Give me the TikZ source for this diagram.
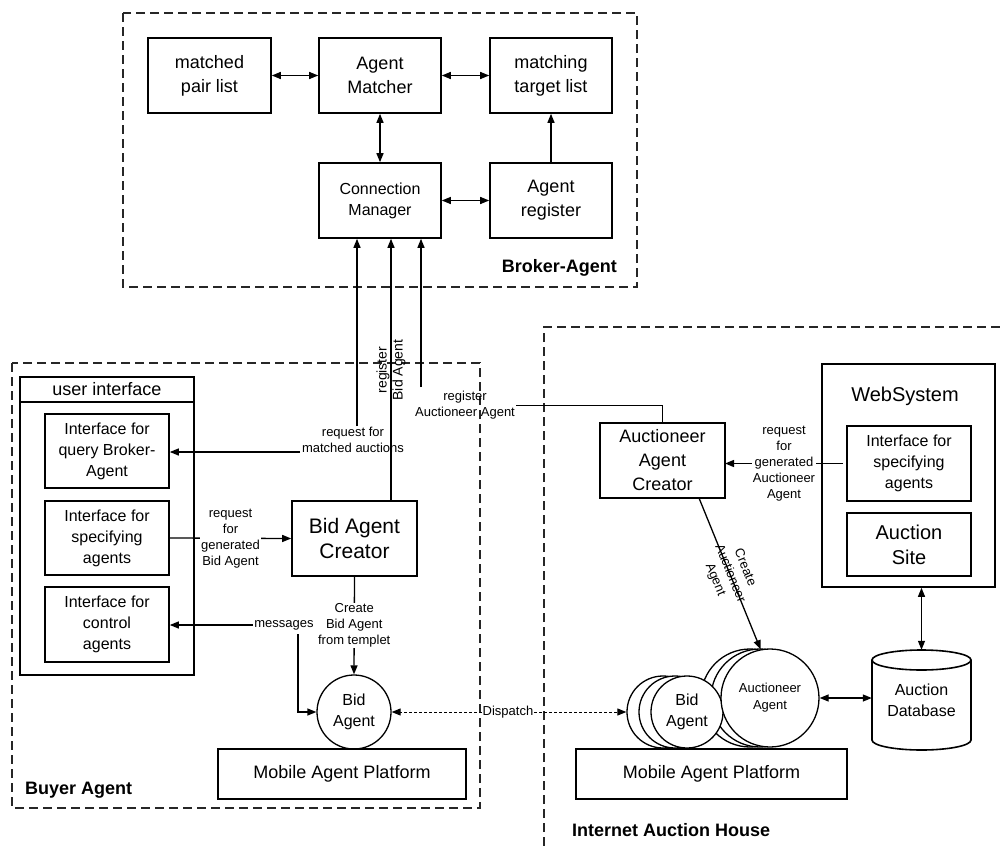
\documentclass[tikz,border=0pt]{standalone}
\usepackage{fontspec}
\setmainfont{Liberation Sans}
\usetikzlibrary{arrows.meta}
\begin{document}
\begin{tikzpicture}[x=1pt,y=-1pt,
  bx/.style={draw, line width=1.6pt, align=center, inner sep=0pt, fill=white, font=\fontsize{18}{24}\selectfont},
  mid/.style={font=\fontsize{16}{21}\selectfont},
  lbl/.style={align=center, inner sep=1pt, font=\fontsize{13}{16}\selectfont},
  arr/.style={line width=1.3pt, -{Triangle[length=9pt,width=7pt]}},
  darr/.style={line width=1.3pt, {Triangle[length=9pt,width=7pt]}-{Triangle[length=9pt,width=7pt]}},
  dsh/.style={line width=1pt, dash pattern=on 3pt off 2pt, -{Triangle[length=9pt,width=7pt]}},
  cont/.style={line width=1.8pt, dash pattern=on 9pt off 5pt, draw=black!85},
  ttl/.style={font=\bfseries\fontsize{18}{22}\selectfont, inner sep=0pt},
  circ/.style={draw, circle, line width=1.3pt, fill=white, align=center, inner sep=0pt}
]
\useasboundingbox (0,0) rectangle (1005,846);

% containers
\draw[cont] (123,13) rectangle (637,287);
\draw[cont] (12,363) rectangle (480,808);
\draw[cont] (544,846) -- (544,327) -- (1005,327);
\node[ttl, anchor=east] (tba) at (617,268) {Broker-Agent};
\node[ttl, anchor=west] (tbu) at (25,790) {Buyer Agent};
\node[ttl, anchor=west] (tih) at (572,830) {Internet Auction House};

% Broker-Agent
\node[bx, minimum width=123pt, minimum height=75pt] (mpl) at (209.5,75.5) {matched\\pair list};
\node[bx, minimum width=122pt, minimum height=75pt] (am) at (380,75.5) {Agent\\Matcher};
\node[bx, minimum width=122pt, minimum height=75pt] (mtl) at (551,75.5) {matching\\target list};
\node[bx, mid, minimum width=122pt, minimum height=75pt] (cm) at (380,200.5) {Connection\\Manager};
\node[bx, minimum width=122pt, minimum height=75pt] (ar) at (551,200.5) {Agent\\register};
\draw[darr] (mpl) -- (am);
\draw[darr] (am) -- (mtl);
\draw[darr] (am) -- (cm);
\draw[arr] (ar) -- (mtl);
\draw[darr] (cm) -- (ar);

% Buyer Agent
\node[draw, line width=1.6pt, minimum width=174pt, minimum height=298pt, inner sep=0pt] (ui) at (107,526) {};
\draw[line width=1.6pt] (20,402) -- (194,402);
\node[font=\fontsize{18}{22}\selectfont, inner sep=0pt] (uit) at (107,389.5) {user interface};
\node[bx, mid, minimum width=124pt, minimum height=74pt] (qi) at (107,451) {Interface for\\query Broker-\\Agent};
\node[bx, mid, minimum width=124pt, minimum height=74pt] (si) at (107,538) {Interface for\\specifying\\agents};
\node[bx, mid, minimum width=124pt, minimum height=75pt] (ci) at (107,624.5) {Interface for\\control\\agents};
\node[bx, font=\fontsize{21}{25}\selectfont, minimum width=125pt, minimum height=75pt] (bac) at (354.5,538.5) {Bid Agent\\Creator};
\node[circ, mid, minimum size=74pt] (ba) at (354,712) {Bid\\Agent};
\node[bx, minimum width=248pt, minimum height=50pt] (map1) at (342,774) {Mobile Agent Platform};

% connectors to Connection Manager
\coordinate (r1) at (357,0);
\coordinate (r2) at (391,0);
\coordinate (r3) at (421,387);
\node[lbl] (rq) at (353,440) {request for\\matched auctions};
\draw[arr] (rq.north -| r1) -- (cm.south -| r1);
\coordinate (q1) at (300,452);
\draw[arr] (q1) -- (qi.east |- q1);
\draw[arr] (bac.north -| r2) -- (cm.south -| r2);
\node[lbl, rotate=90, font=\fontsize{14}{16}\selectfont] (rb) at (391,370) {register\\Bid Agent};
\draw[arr] (r3) -- (cm.south -| r3);
\node[lbl] (ra) at (465,405) {register\\Auctioneer Agent};

% Buyer internal connectors
\draw[arr] (si.east) -- node[lbl, fill=white] {request\\for\\generated\\Bid Agent} (bac.west);
\draw[arr] (bac.south) -- node[lbl, fill=white] {Create\\Bid Agent\\from templet} (ba.north);
\node[lbl] (msg) at (284,625) {messages};
\draw[arr] (msg.west) -- (ci.east |- msg.west);
\coordinate (m1) at (298,634);
\draw[arr] (m1) |- (ba.west);

% Internet Auction House
\node[bx, minimum width=125pt, minimum height=75pt] (aac) at (662.5,460.5) {Auctioneer\\Agent\\Creator};
\draw (ra.east) -| (aac.north);
\node[circ, minimum size=98pt] (ab2) at (750,698) {};
\node[circ, minimum size=98pt] (ab1) at (760,698) {};
\node[circ, minimum size=72pt] (ib3) at (663,712) {};
\node[circ, minimum size=72pt] (ib2) at (675,712) {};
\node[circ, mid, minimum size=72pt] (ib1) at (687,712) {Bid\\Agent};
\node[circ, font=\fontsize{13}{17}\selectfont, minimum size=98pt] (af) at (770,698) {Auctioneer\\Agent};
\node[bx, minimum width=271pt, minimum height=50pt] (map2) at (711.5,774) {Mobile Agent Platform};
\coordinate (c5) at (699,498);
\draw[arr] (c5) -- node[lbl, midway, sloped] {Create\\Auctioneer\\Agent} (af.101);

% Dispatch
\node[lbl] (dsp) at (508,712) {Dispatch};
\draw[dsh] (dsp.west) -- (ba.east);
\draw[dsh] (dsp.east) -- (ib3.west);

% WebSystem
\draw[arr] (843,463.5) -- node[lbl, fill=white] {request\\for\\generated\\Auctioneer\\Agent} (725,463.5);
\node[draw, line width=1.6pt, minimum width=173pt, minimum height=223pt, inner sep=0pt] (ws) at (908.5,475.5) {};
\node[font=\fontsize{20}{24}\selectfont, inner sep=0pt] (wst) at (905,396) {WebSystem};
\node[bx, mid, minimum width=124pt, minimum height=75pt] (wsi) at (909,463.5) {Interface for\\specifying\\agents};
\node[bx, font=\fontsize{20}{25}\selectfont, minimum width=124pt, minimum height=63pt] (as) at (909,544.5) {Auction\\Site};

% Database
\draw[line width=1.6pt, fill=white] (872,660) -- (872,740) arc[start angle=180, end angle=360, x radius=49.5pt, y radius=10pt] -- (971,660);
\draw[line width=1.6pt, fill=white] (921.5,660) ellipse[x radius=49.5pt, y radius=10pt];
\node[mid, align=center, minimum width=99pt, minimum height=100pt, inner sep=0pt] (db) at (921.5,700) {Auction\\Database};
\draw[darr] (db.north |- ws.south) -- (db.north);
\draw[darr] (af.east) -- (db.west |- af.east);
\end{tikzpicture}
\end{document}
